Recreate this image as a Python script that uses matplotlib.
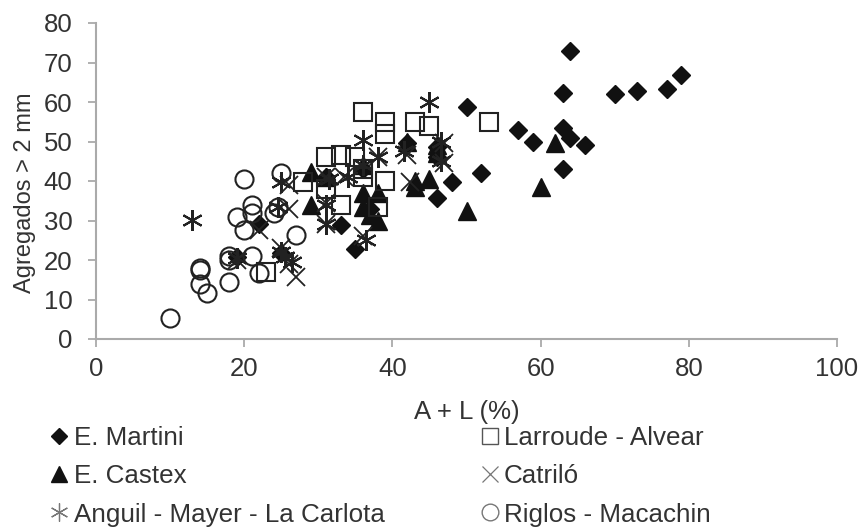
import matplotlib
matplotlib.use('Agg')
import matplotlib.pyplot as plt
from matplotlib.lines import Line2D

plt.rcParams['font.family'] = ['Liberation Sans', 'DejaVu Sans']

# E. Martini
mart_x = [64, 63, 70, 73, 77, 79, 57, 59, 63, 64, 66, 63, 52, 50, 48, 46, 35, 33, 46, 46, 42, 31, 36, 37, 22, 19, 25]
mart_y = [73, 62.3, 62, 62.7, 63.3, 66.8, 52.9, 50, 53.3, 51, 49, 43, 42, 58.7, 39.8, 35.7, 22.8, 28.9, 48.7, 46, 49.6, 41, 43, 33, 29, 20.7, 21.8]
# E. Castex
cast_x = [62, 60, 50, 45, 43, 43, 29, 29, 42, 46, 38, 36, 36, 38, 37, 36, 31, 46]
cast_y = [49.5, 38.5, 32.3, 40.4, 38.5, 40, 42.4, 34, 50, 47, 37, 37, 33.5, 30, 31.5, 44, 41, 49]
# Anguil - Mayer - La Carlota
angu_x = [13, 25, 25, 25.5, 26.5, 19, 24.5, 45, 36, 38, 41.5, 46.5, 46.5, 31, 36.5, 31, 31.5, 36, 34]
angu_y = [30.2, 39.8, 22, 20.8, 19.5, 20.5, 33.5, 60, 50.4, 46, 47.5, 50, 45, 29, 25, 34, 40.5, 44, 41]
# Larroude - Alvear
larr_x = [36, 39, 39, 43, 45, 53, 39, 33, 28, 31, 33, 35, 36, 36, 31, 23, 38]
larr_y = [57.4, 55, 52, 55, 53.8, 55, 40, 34, 39.7, 46, 46.6, 46, 41, 43, 38, 17, 33.5]
# Catrilo
catr_x = [27, 26, 25, 22, 26, 26, 19, 42.4, 31, 31, 38, 42, 47, 47, 36, 31, 33.5]
catr_y = [15.7, 19, 23, 27.6, 33, 39, 20, 39.7, 34.5, 29, 46, 46.6, 49.6, 44.5, 26, 41, 41]
# Riglos - Macachin
rigl_x = [10, 14, 14, 14, 15, 18, 18, 18, 20, 25, 19, 21, 21, 20, 21, 22, 24, 24.6, 27]
rigl_y = [5.3, 18, 17.5, 14, 11.6, 14.4, 21, 20, 40.4, 42, 31, 34, 32, 27.5, 21, 16.7, 32, 33.5, 26.4]

names = ['E. Martini', 'E. Castex', 'Anguil - Mayer - La Carlota', 'Larroude - Alvear', 'Catriló', 'Riglos - Macachin']
xticks = [0, 20, 40, 60, 80, 100]
yticks = [0, 10, 20, 30, 40, 50, 60, 70, 80]

fig = plt.figure(figsize=(8.59, 5.28), dpi=100)
ax = fig.add_axes([96/859, 1-339/528, 741/859, 316/528])

ax.plot(mart_x, mart_y, ls='', marker='D', ms=9, color='#111111', clip_on=False)
ax.plot(cast_x, cast_y, ls='', marker='^', ms=13, color='#111111', clip_on=False)
ax.plot(angu_x, angu_y, ls='', marker=(6, 2, 0), ms=15, mew=1.5, color='#222222', clip_on=False)
ax.plot(larr_x, larr_y, ls='', marker='s', ms=13, mew=1.5, mfc='none', color='#222222', clip_on=False)
ax.plot(catr_x, catr_y, ls='', marker='x', ms=13, mew=1.3, color='#222222', clip_on=False)
ax.plot(rigl_x, rigl_y, ls='', marker='o', ms=13, mew=1.5, mfc='none', color='#222222', clip_on=False)

ax.set_xlim(0, 100)
ax.set_ylim(0, 80)
ax.set_xticks(xticks)
ax.set_yticks(yticks)
ax.spines['top'].set_visible(False)
ax.spines['right'].set_visible(False)
for s in ['left', 'bottom']:
    ax.spines[s].set_color('#aaaaaa')
    ax.spines[s].set_linewidth(1.5)
ax.tick_params(axis='both', labelsize=18.5, color='#aaaaaa', labelcolor='#333333', length=6, width=1.3)
ax.tick_params(axis='y', pad=11)
ax.tick_params(axis='x', pad=7)
ax.set_xlabel('A + L (%)', fontsize=18.5, color='#333333', labelpad=14)
ax.set_ylabel('Agregados > 2 mm', fontsize=17, color='#333333')
ax.yaxis.set_label_coords(-60/741, 146/316)

# legend markers are smaller and thinner than the ones in the plot
handles = [
    Line2D([], [], ls='', marker='D', ms=8, color='#111111'),
    Line2D([], [], ls='', marker='^', ms=11, color='#111111'),
    Line2D([], [], ls='', marker=(6, 2, 0), ms=13, mew=0.9, color='#777777'),
    Line2D([], [], ls='', marker='s', ms=12, mew=1.0, mfc='none', color='#555555'),
    Line2D([], [], ls='', marker='x', ms=12, mew=0.9, color='#777777'),
    Line2D([], [], ls='', marker='o', ms=12, mew=1.0, mfc='none', color='#777777'),
]
ax.legend(handles, names, ncol=2, loc='upper left', bbox_to_anchor=(49/859, 1-426/528), bbox_transform=fig.transFigure,
          frameon=False, fontsize=18.7, handlelength=0.8, handletextpad=0.15,
          labelspacing=0.55, columnspacing=3.65, borderpad=0, borderaxespad=0, labelcolor='#333333')

plt.savefig('out.png', dpi=100)
